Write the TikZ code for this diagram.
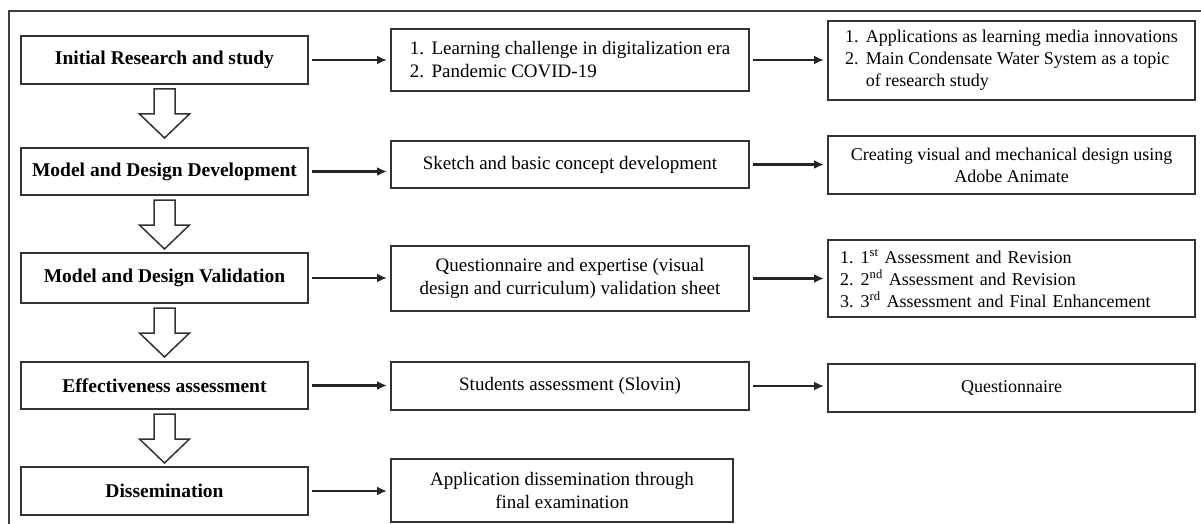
\documentclass[tikz,border=0pt]{standalone}
\usepackage{fontspec}
\setmainfont{Liberation Serif}
\usetikzlibrary{positioning,calc,arrows.meta}
\tikzset{phase/.style = {draw=black!80, line width=2pt, minimum width=287pt, font=\bfseries\fontsize{19.5}{23}\selectfont}}
\tikzset{activity/.style = {draw=black!80, line width=2pt, minimum width=358pt, align=center, font=\fontsize{19}{23}\selectfont}}
\tikzset{outcome/.style = {draw=black!80, line width=2pt, minimum width=367pt, align=center, font=\fontsize{18}{22}\selectfont}}
\tikzset{listed/.style = {align=left, text width=#1}}
\tikzset{flow/.style = {draw=black!80, line width=1.5pt, fill=white}}
\newcommand{\num}[1]{\makebox[1.15em][l]{#1}}

\begin{document}
\begin{tikzpicture}[x=1pt, y=-1pt, >={Latex[length=10pt,width=9pt]},
    link/.style={->, line width=2.5pt, black!85, shorten <=3pt, shorten >=3pt}]
  \useasboundingbox (0,0) rectangle (1201,524);
  \draw[line width=2pt, black!75] (8.5,524) -- (8.5,11) -- (1201,11);

  % stages
  \node [phase, minimum height=48pt] (r1) at (164.5,60) {Initial Research and study};
  \node [phase, minimum height=47pt] (r2) at (164.5,171.5) {Model and Design Development};
  \node [phase, minimum height=50pt] (r3) at (164.5,278) {Model and Design Validation};
  \node [phase, minimum height=47pt] (r4) at (164.5,385.5) {Effectiveness assessment};
  \node [phase, minimum height=48pt] (r5) at (164.5,491) {Dissemination};

  % activities
  \node [activity, align=left, minimum height=62pt] (m1) at (570,60)
    {\num{1.}Learning challenge in digitalization era\\\num{2.}Pandemic COVID-19};
  \node [activity, minimum height=47pt] (m2) at (570,164.5) {Sketch and basic concept development};
  \node [activity, minimum height=65pt] (m3) at (570,278.5)
    {Questionnaire and expertise (visual\\design and curriculum) validation sheet};
  \node [activity, minimum height=48pt] (m4) at (570,386) {Students assessment (Slovin)};
  \node [activity, minimum width=342pt, minimum height=63pt] (m5) at (562,490.5)
    {Application dissemination through\\final examination};

  % outcomes
  \node [outcome, align=left, minimum height=79pt] (o1) at (1011.5,60.5)
    {\num{1.}Applications as learning media innovations\\\num{2.}Main Condensate Water System as a topic\\\hspace*{1.15em}of research study};
  \node [outcome, minimum height=58pt] (o2) at (1011.5,165)
    {Creating visual and mechanical design using\\Adobe Animate};
  \node [outcome, listed=343pt, inner xsep=12pt, minimum height=77pt] (o3) at (1011.5,278.5)
    {\num{1.}1\textsuperscript{st} Assessment and Revision\\\num{2.}2\textsuperscript{nd} Assessment and Revision\\\num{3.}3\textsuperscript{rd} Assessment and Final Enhancement};
  \node [outcome, minimum height=48pt] (o4) at (1011.5,388) {Questionnaire};

  \foreach \i in {1,...,5}
    \draw[link] (r\i.east) -- (r\i.east -| m\i.west);
  \foreach \i in {1,...,4}
    \draw[link] (m\i.east) -- (m\i.east -| o\i.west);

  \foreach \i in {1,...,4}
    \draw[flow] ($(r\i.south)+(-10.5,4)$) -- ++(0,25) -- ++(-14.5,0) -- ++(25,24)
      -- ++(25,-24) -- ++(-14.5,0) -- ++(0,-25) -- cycle;
\end{tikzpicture}
\end{document}
